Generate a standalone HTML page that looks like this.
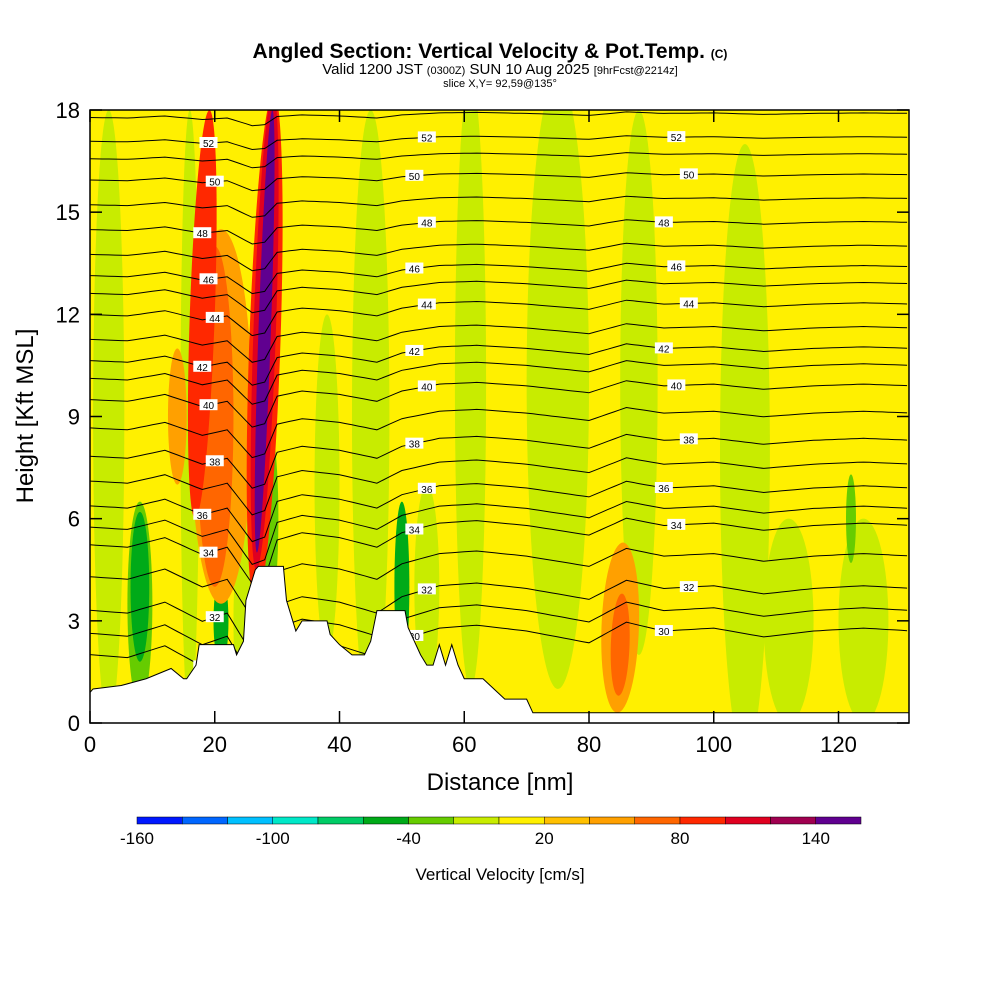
<!DOCTYPE html>
<html><head><meta charset="utf-8"><style>
body{margin:0;background:#fff;font-family:"Liberation Sans",sans-serif}
svg text{font-family:"Liberation Sans",sans-serif}
</style></head><body>
<svg id="c" width="1000" height="1000" xmlns="http://www.w3.org/2000/svg">
<text x="490" y="58" font-size="21" font-weight="bold" text-anchor="middle">Angled Section: Vertical Velocity &amp; Pot.Temp. <tspan font-size="12">(C)</tspan></text>
<text x="500" y="74" font-size="15" text-anchor="middle">Valid 1200 JST <tspan font-size="11">(0300Z)</tspan> SUN 10 Aug 2025 <tspan font-size="11">[9hrFcst@2214z]</tspan></text>
<text x="500" y="87" font-size="11" text-anchor="middle">slice X,Y= 92,59@135°</text>
<defs><clipPath id="pc"><rect x="90" y="110" width="819" height="613"/></clipPath></defs>
<g id="plot" clip-path="url(#pc)"></g>
<rect x="90" y="110" width="819" height="613" fill="none" stroke="#000" stroke-width="1.5"/>
<g id="axes"></g>
<text x="500" y="790" font-size="24" text-anchor="middle">Distance [nm]</text>
<text transform="translate(33,416) rotate(-90)" font-size="24" text-anchor="middle">Height [Kft MSL]</text>
<g id="cbar"></g>
<text x="500" y="880" font-size="17" text-anchor="middle">Vertical Velocity [cm/s]</text>
</svg>
<script>
const xTicks=[0,20,40,60,80,100,120];
const yTicks=[0,3,6,9,12,15,18];
const cbColors=["#0018ff","#0066ff","#00c0ff","#00e8c8","#00cc66","#00aa18","#66cc00","#c8ec00","#fff000","#ffc000","#ffa000","#ff6600","#ff2800","#e00020","#a00050","#600090"];
const cbLabels=["-160","-100","-40","20","80","140"];
const levels=[30,31,32,33,34,35,36,37,38,39,40,41,42,43,44,45,46,47,48,49,50,51,52,53];
const baseH=[2.7,3.3,3.95,4.9,5.8,6.3,6.9,7.6,8.3,9.1,9.9,10.5,11.0,11.6,12.3,12.9,13.4,14.0,14.7,15.4,16.1,16.7,17.2,17.9];
const waveX=[0,6,12,18,22,26,28,30,34,40,46,50,56,62,70,80,86,92,100,108,116,124,132];
const waveY=[-0.8,-0.9,-0.5,-1.2,-0.9,-2.4,-2.2,-0.6,-0.3,-0.5,-0.9,-0.3,0.1,0.2,0.0,-0.4,0.3,0.0,0.1,-0.2,0.0,0.1,0.0];
const terrX=[0,0.5,5,9,13,15,15.5,17,17.5,23,23.5,24.6,25,26.5,27,27.5,31,31.5,33,34,38,38.5,40,42,44,45,46,47.5,50.5,51,53,54,55,56,57,58,59,60,61,63,66.5,70,71,132];
const terrY=[0.9,1.0,1.1,1.3,1.6,1.3,1.3,1.7,2.3,2.3,2.0,2.4,3.6,4.5,4.6,4.6,4.6,3.6,2.7,3.0,3.0,2.6,2.3,2.0,2.0,2.4,3.3,3.3,3.3,2.8,2.0,1.7,1.7,2.3,1.7,2.3,1.7,1.3,1.3,1.3,0.7,0.7,0.3,0.3];
// velocity blobs: [xnm, kft, rx nm, ry kft, colorIndex]
const blobX=[3,8,16,25,38,45,54,61,75,88,105,112,124,122,8,21,29,50,21,20,14,18,28,85,85,28,28];
const blobY=[9,3.5,9,3,7,9,4,10,10,10,8,3,3,6,4,3,6,4,9,9,9,12,11,2.8,2.3,11.5,11.5];
const blobRX=[2.5,2,1.5,2,2,3,2,2.5,5,3,4,4,4,0.8,1.5,1.2,1.2,1.2,5,3,1.5,2,2.5,3,1.5,1.8,1];
const blobRY=[9,3,9,3,5,9,3,9,9,8,9,3,3,1.3,2.2,1.3,2.5,2.5,5.5,5,2,6,7.5,2.5,1.5,7,6.5];
const blobC=[7,6,7,7,7,7,7,7,7,7,7,7,7,6,5,5,6,5,10,11,10,12,12,10,11,13,15];
const NS="http://www.w3.org/2000/svg";
const sx=v=>90+v*819/131.3, sy=v=>723-v*613/18;
function mk(t,a,p){const e=document.createElementNS(NS,t);for(const k in a)e.setAttribute(k,a[k]);(p||document.getElementById('plot')).appendChild(e);return e;}
const P=document.getElementById('plot');
let bg=mk('rect',{x:90,y:110,width:819,height:613,fill:cbColors[8]});


for(let i=0;i<blobX.length;i++){
 let e=mk('ellipse',{cx:sx(blobX[i]),cy:sy(blobY[i]),rx:blobRX[i]*819/131.3,ry:blobRY[i]*613/18,fill:cbColors[blobC[i]]});
 if(i>=21)e.setAttribute('transform','rotate(2,'+sx(blobX[i])+','+sy(blobY[i])+')');
 
 
}
function wave(x){for(let j=0;j<waveX.length-1;j++){if(x<=waveX[j+1]){const t=(x-waveX[j])/(waveX[j+1]-waveX[j]);return waveY[j]+t*(waveY[j+1]-waveY[j]);}}return 0;}
levels.forEach((lv,i)=>{
 const amp=Math.max(0.15,1-baseH[i]/20);
 let pts=[];for(let x=0;x<=131.3;x+=1){pts.push(sx(x).toFixed(1)+','+sy(baseH[i]+wave(x)*amp).toFixed(1));}
 let l=mk('polyline',{points:pts.join(' '),fill:'none',stroke:'#000','stroke-width':1});
 
 
 if(lv%2===0){[[18+(i%3)*1],[52+(i%4)],[92+(i%3)*2]].forEach(([lx])=>{
  const ly=sy(baseH[i]+wave(lx)*amp);
  let r=mk('rect',{x:sx(lx)-9,y:ly-6,width:18,height:11,fill:'#fff'});
  
  
  let t=mk('text',{x:sx(lx),y:ly+4,'font-size':10,'text-anchor':'middle'});t.textContent=lv;
  
  
 });}
});
let tp=terrX.map((x,i)=>sx(x)+','+sy(terrY[i]));tp.push(sx(132)+','+sy(0),sx(0)+','+sy(0));
let ter=mk('polygon',{points:tp.join(' '),fill:'#fff',stroke:'#000','stroke-width':1});


const A=document.getElementById('axes');
xTicks.forEach(v=>{
 mk('line',{x1:sx(v),x2:sx(v),y1:723,y2:711,stroke:'#000','stroke-width':1.5},A);
 mk('line',{x1:sx(v),x2:sx(v),y1:110,y2:122,stroke:'#000','stroke-width':1.5},A);
 let t=mk('text',{x:sx(v),y:752,'font-size':22,'text-anchor':'middle'},A);t.textContent=v;
 
 
});
yTicks.forEach(v=>{
 mk('line',{x1:90,x2:102,y1:sy(v),y2:sy(v),stroke:'#000','stroke-width':1.5},A);
 mk('line',{x1:909,x2:897,y1:sy(v),y2:sy(v),stroke:'#000','stroke-width':1.5},A);
 let t=mk('text',{x:80,y:sy(v)+8,'font-size':22,'text-anchor':'end'},A);t.textContent=v;
 
 
});
const C=document.getElementById('cbar');const w=724/cbColors.length;
cbColors.forEach((c,i)=>{let r=mk('rect',{x:137+i*w,y:817,width:w,height:7,fill:c,stroke:'#000','stroke-width':0.5},C);
 
 });
cbLabels.forEach((s,i)=>{let t=mk('text',{x:137+i*3*w,y:844,'font-size':17,'text-anchor':'middle'},C);t.textContent=s;
 
 });
</script>
</body></html>
